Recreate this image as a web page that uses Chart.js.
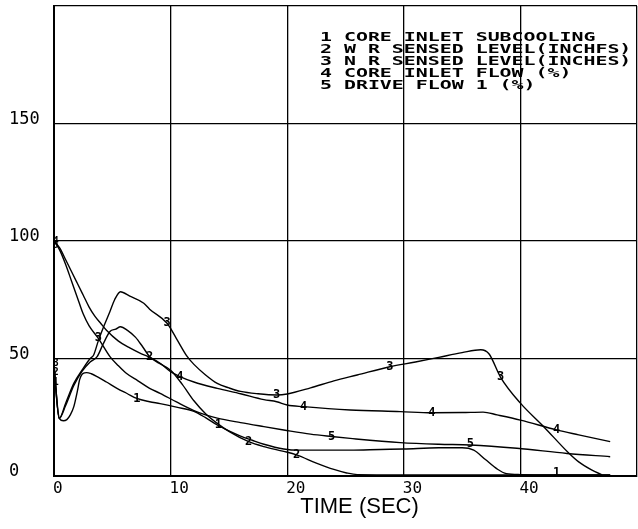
<!DOCTYPE html>
<html><head><meta charset="utf-8">
<script src="https://cdn.jsdelivr.net/npm/chart.js@4/dist/chart.umd.min.js"></script>
<style>html,body{margin:0;padding:0;background:#fff}#wrap{width:638px;height:529px;position:relative}</style>
</head><body><div id="wrap"><canvas id="c" width="638" height="529"></canvas></div>
<script>
// ---- data (time in s, values) ----
const xTicks = [0, 10, 20, 30, 40];
const yTicks = [0, 50, 100, 150];
const xTitle = 'TIME (SEC)';
const legendLines = ["1 CORE INLET SUBCOOLING", "2 W R SENSED LEVEL(INCHFS)", "3 N R SENSED LEVEL(INCHES)", "4 CORE INLET FLOW (%)", "5 DRIVE FLOW 1 (%)"];

// 1 core inlet subcooling
const t1 = [0, 0.45, 0.8, 1.1, 1.4, 1.7, 2.0, 2.2, 2.5, 2.8, 3.2, 3.7, 4.5, 5.4, 6.3, 7.1, 8.2, 9.1, 10.5, 12, 13, 14, 15, 16, 17, 18, 19.7, 21, 23, 25.4, 28, 30, 33, 35, 36, 37, 38, 38.8, 40, 43, 47.7];
const v1 = [47, 24.5, 23.5, 24, 26, 29.5, 36, 41, 43.7, 44, 43.5, 42.3, 40, 37.3, 35, 33, 31.6, 30.8, 29.3, 27.5, 24.8, 21.7, 19.2, 17, 15.2, 13.5, 11.5, 11, 11, 11, 11.3, 11.5, 12, 12, 11, 7, 3, 1, 0.6, 0.5, 0.5];
// 2 W R sensed level
const t2 = [0, 0.45, 1, 1.7, 2.4, 3.1, 3.7, 4.2, 4.8, 5.3, 5.7, 6.3, 7, 7.6, 8.2, 9, 10, 11, 12, 13, 14, 15, 16.7, 18, 19.7, 20.8, 22.5, 24, 25.1, 26, 30, 47.7];
const v2 = [46, 24.5, 30, 38.5, 44.5, 48.5, 50.8, 56, 61.5, 62.5, 63.5, 62, 59, 55, 50.8, 48, 45, 39, 32, 26.5, 22.4, 19, 14.6, 12.5, 10.5, 9, 5.5, 2.8, 1.3, 0.6, 0.5, 0.5];
// 3 N R sensed level
const t3 = [0, 0.45, 1, 1.7, 2.4, 3.1, 3.4, 3.8, 4.3, 4.8, 5.2, 5.7, 6.5, 7.7, 8.2, 9.7, 10.5, 11.4, 12, 13, 14, 15, 16, 17.5, 19.1, 20, 22, 24, 26, 28.8, 31, 33, 35, 36.6, 37.3, 38.3, 40, 42, 44.1, 45, 46.1, 47];
const v3 = [48, 24.5, 31, 39.4, 45, 50, 51.5, 57.5, 64, 70, 75, 78.4, 76.5, 73.5, 71, 65, 58.5, 51, 47.5, 43, 39.4, 37.5, 36, 35, 34.5, 34.9, 37.5, 40.5, 43, 46.5, 48.5, 50.5, 52.5, 53.7, 52, 42, 31, 21, 10, 6, 2.6, 0.5];
// 4 core inlet flow
const t4 = [0, 0.5, 1, 1.5, 2, 2.5, 3, 3.5, 4, 4.5, 5.5, 6.5, 7.5, 8.4, 9.1, 10, 10.8, 12, 14, 16, 18, 19.1, 20, 21.4, 25.4, 29.7, 32.4, 35, 36.8, 38, 40, 43.1, 45, 47.7];
const v4 = [100, 97, 92, 87, 82, 77, 72, 68, 65, 62, 57.5, 54.5, 52, 50.1, 48, 44.4, 42.3, 40, 37.3, 35, 32.5, 31.6, 30.2, 29.5, 28.1, 27.4, 26.9, 27, 27.2, 26, 23.8, 19.6, 17.5, 14.6];
// 5 drive flow 1
const t5 = [0, 0.5, 1, 1.5, 2, 2.5, 3, 3.8, 4.8, 5.5, 6.2, 7.2, 8.2, 9.1, 10.5, 12, 13, 14, 16, 18, 19.7, 22, 23.8, 25.4, 29.7, 33, 35.7, 39.7, 44, 47.7];
const v5 = [100, 96, 90, 83, 76, 69, 64, 58.6, 50.8, 47, 43.7, 40.5, 37.3, 35.2, 31.5, 27.8, 26, 24.6, 22.7, 21, 19.6, 17.8, 16.8, 16, 14.2, 13.5, 13.2, 11.8, 9.6, 8.2];

// curve number labels written along the curves
const labelT = [[0.15, 7.1, 14.1, 43.1], [0.15, 8.2, 16.7, 20.8], [0.15, 3.8, 9.7, 19.1, 28.8, 38.3], [0.15, 10.8, 21.4, 32.4, 43.1], [0.15, 23.8, 35.7]];
const labelV = [[40, 33, 21.7, 1.2], [44, 50.8, 14.6, 9], [48, 58.6, 65, 34.5, 46.5, 42], [100, 42.3, 29.5, 26.9, 19.6], [98, 16.8, 13.5]];

const series = [[t1, v1], [t2, v2], [t3, v3], [t4, v4], [t5, v5]];
const MONO = '"DejaVu Sans Mono", "Liberation Mono", monospace';

const pts = (t, v) => t.map((x, i) => ({x, y: v[i]}));

const frame = {
  id: 'frame',
  afterDatasetsDraw(chart) {
    const {ctx, chartArea: a, scales: {x, y}} = chart;
    ctx.save();
    ctx.fillStyle = '#000';
    ctx.textAlign = 'center';
    ctx.textBaseline = 'middle';
    labelT.forEach((arr, s) => arr.forEach((t, i) => {
      ctx.font = (i === 0 ? 'bold 10px ' : 'bold 12px ') + MONO;
      ctx.fillText(String(s + 1), x.getPixelForValue(t), y.getPixelForValue(labelV[s][i]));
    }));
    // legend text block
    ctx.textAlign = 'left';
    ctx.font = 'bold 13px ' + MONO;
    const lx = a.left + 266, ly = a.top + 32;
    legendLines.forEach((s, i) => {
      ctx.save();
      ctx.translate(lx, ly + i * 12);
      ctx.scale(1.53, 1);
      ctx.fillText(s, 0, 0);
      ctx.restore();
    });
    // axis title
    ctx.font = '22px "Liberation Sans", Arial, sans-serif';
    ctx.textAlign = 'center';
    ctx.fillText(xTitle, (a.left + a.right) / 2 + 14, a.bottom + 31);
    ctx.restore();
  }
};

new Chart(document.getElementById('c'), {
  type: 'scatter',
  data: {
    datasets: series.map(([t, v], i) => ({
      label: legendLines[i],
      data: pts(t, v),
      showLine: true,
      borderColor: '#000',
      borderWidth: 1.4,
      pointRadius: 0,
      cubicInterpolationMode: 'monotone',
      fill: false
    }))
  },
  options: {
    responsive: false,
    animation: false,
    devicePixelRatio: 1,
    layout: {padding: {top: 6, right: 1, left: 9, bottom: 0}},
    plugins: {legend: {display: false}, tooltip: {enabled: false}},
    scales: {
      x: {
        type: 'linear', min: 0, max: 50,
        afterBuildTicks: s => { s.ticks = [0, 10, 20, 30, 40, 50].map(v => ({value: v})); },
        afterFit: s => { s.height = 53; s.paddingLeft = 0; s.paddingRight = 0; },
        ticks: {
          callback: v => xTicks.includes(v) ? String(v) : '',
          color: '#000', font: {family: MONO, size: 16}, padding: 3, maxRotation: 0,
          align: 'start', labelOffset: -1
        },
        grid: {color: '#000', lineWidth: 1.3, drawTicks: false},
        border: {color: '#000', width: 2}
      },
      y: {
        type: 'linear', min: 0, max: 200,
        afterBuildTicks: s => { s.ticks = [0, 50, 100, 150, 200].map(v => ({value: v})); },
        afterFit: s => { s.width = 45; s.paddingTop = 0; s.paddingBottom = 0; },
        ticks: {
          callback: v => yTicks.includes(v) ? String(v) : '',
          color: '#000', font: {family: MONO, size: 17}, padding: 2,
          crossAlign: 'far', labelOffset: -4
        },
        grid: {color: '#000', lineWidth: 1.3, drawTicks: false},
        border: {color: '#000', width: 2}
      }
    }
  },
  plugins: [frame]
});
</script></body></html>
